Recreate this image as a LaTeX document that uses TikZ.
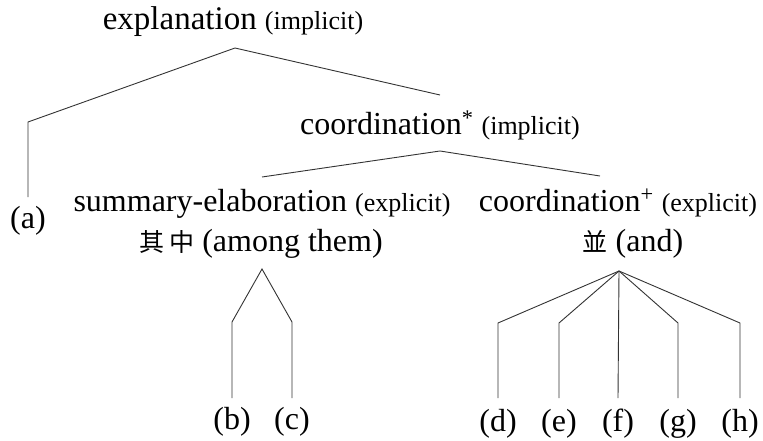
\documentclass[tikz,border=0pt]{standalone}
\usepackage{fontspec}
\setmainfont{Liberation Serif}
\newfontfamily\cjk{Noto Sans CJK TC}
\newcommand\bigf{\fontsize{32}{38}\selectfont}
\newcommand\hugef{\fontsize{33}{38}\selectfont}
\newcommand\smallf{\fontsize{26}{30}\selectfont}
\newcommand\cjkf{\cjk\fontsize{25}{30}\selectfont}
\begin{document}
\begin{tikzpicture}[x=1pt,y=-1pt]
\useasboundingbox (0,0) rectangle (763,441);
\tikzset{
  lbl/.style={inner sep=0pt, anchor=base, font=\bigf},
  edge/.style={draw=black!80, line width=0.9pt}
}
% text nodes
\node[lbl, font=\hugef] (expl) at (233,30) {explanation {\smallf (implicit)}};
\node[lbl] (coord) at (440,135) {coordination\textsuperscript{*} {\smallf (implicit)}};
\node[lbl] (summ) at (262,211) {summary-elaboration {\smallf (explicit)}};
\node[lbl] (among) at (261,251) {{\cjkf 其\hspace{5pt}中}\hspace{8pt}(among them)};
\node[lbl] (coordp) at (618,211) {coordination\textsuperscript{+} {\smallf (explicit)}};
\node[lbl] (and) at (633,251) {{\cjkf 並} (and)};
\node[lbl] (a) at (28,228) {(a)};
\node[lbl] (b) at (232,429) {(b)};
\node[lbl] (c) at (292,429) {(c)};
\node[lbl] (d) at (498,431) {(d)};
\node[lbl] (e) at (559,431) {(e)};
\node[lbl] (f) at (618,431) {(f)};
\node[lbl] (g) at (678,431) {(g)};
\node[lbl] (h) at (740,431) {(h)};
% coordinates
\coordinate (top) at (235,48);
\coordinate (abend) at (28,122);
\coordinate (aend) at (28,197);
\coordinate (ctop) at (440,95);
\coordinate (capex) at (440,151);
\coordinate (sleft) at (262,177);
\coordinate (sright) at (600,176);
\coordinate (bcapex) at (262,269);
\coordinate (bbend) at (232,322);
\coordinate (bend) at (232,398);
\coordinate (cbend) at (292,322);
\coordinate (cend) at (292,398);
\coordinate (dapex) at (619,271);
\coordinate (dbend) at (498,323);
\coordinate (dend) at (498,398);
\coordinate (ebend) at (559,323);
\coordinate (eend) at (559,398);
\coordinate (fend) at (618,398);
\coordinate (gbend) at (678,323);
\coordinate (gend) at (678,398);
\coordinate (hbend) at (740,323);
\coordinate (hend) at (740,398);
% connectors
\draw[edge] (aend) -- (abend) -- (top) -- (ctop);
\draw[edge] (sleft) -- (capex) -- (sright);
\draw[edge] (bend) -- (bbend) -- (bcapex) -- (cbend) -- (cend);
\draw[edge] (dend) -- (dbend) -- (dapex) -- (hbend) -- (hend);
\draw[edge] (eend) -- (ebend) -- (dapex) -- (gbend) -- (gend);
\draw[edge] (dapex) -- (fend);
\end{tikzpicture}
\end{document}
